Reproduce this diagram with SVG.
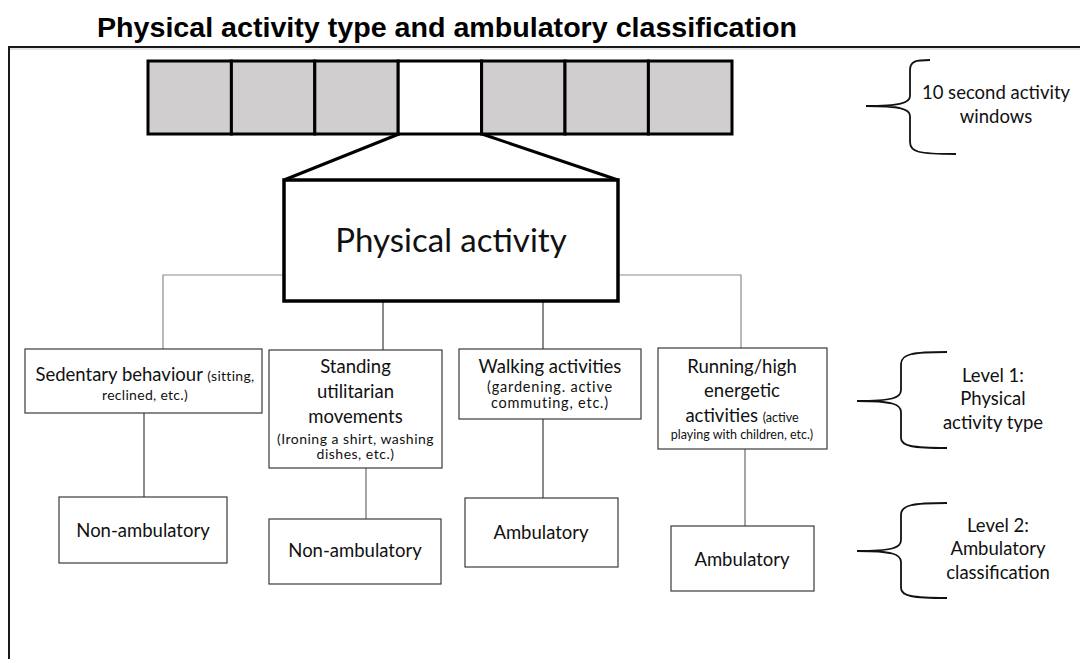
<svg xmlns="http://www.w3.org/2000/svg" width="1080" height="659" viewBox="0 0 1080 659">
<style>
  .bg { fill: #ffffff; }
  .frame { stroke: #1a1a1a; stroke-width: 2; fill: none; }
  .cell { fill: #d0cece; stroke: #000; stroke-width: 3; }
  .cell-sel { fill: #ffffff; stroke: #000; stroke-width: 3; }
  .zoom { stroke: #000; stroke-width: 3; fill: none; }
  .main { fill: #fff; stroke: #000; stroke-width: 3.5; }
  .box { fill: #fff; stroke: #3a3a3a; stroke-width: 1.2; }
  .elbow { stroke: #8c8c8c; stroke-width: 1.2; fill: none; }
  .link { stroke: #2a2a2a; stroke-width: 1.1; fill: none; }
  .link2 { stroke: #6a6a6a; stroke-width: 1.2; fill: none; }
  .brace { stroke: #111; stroke-width: 1.8; fill: none; }
  .title { font-family: "Liberation Sans", Arial, sans-serif; font-weight: bold; font-size: 27px; fill: #000; }
  .t { font-family: Lato, "Open Sans", sans-serif; fill: #111; text-anchor: middle; }
  .big { font-size: 18.5px; }
  .sm { font-size: 14px; letter-spacing: 0.3px; }
  .sms { font-size: 14px; letter-spacing: 0.5px; }
  .smw { font-size: 14.5px; letter-spacing: 0.8px; }
  .smr { font-size: 12.5px; }
  .huge { font-size: 33px; }
</style>
<rect class="bg" x="0" y="0" width="1080" height="659"/>

<text class="title" x="97" y="37" textLength="700" lengthAdjust="spacingAndGlyphs">Physical activity type and ambulatory classification</text>

<g id="frame">
  <line class="frame" x1="8" y1="47" x2="1080" y2="47"/>
  <line class="frame" x1="9" y1="46" x2="9" y2="659"/>
  <line x1="10" y1="49" x2="1080" y2="49" stroke="#c8c8c8" stroke-width="1"/>
</g>

<g id="connectors">
  <line class="zoom" x1="399" y1="134" x2="284" y2="180"/>
  <line class="zoom" x1="482" y1="134" x2="618" y2="180"/>
  <polyline class="elbow" points="284,275 163,275 163,349"/>
  <polyline class="elbow" points="618,275 741,275 741,348"/>
  <line class="link" x1="383" y1="301" x2="383" y2="350"/>
  <line class="link" x1="543" y1="301" x2="543" y2="349"/>
  <line class="link" x1="144" y1="413" x2="144" y2="497"/>
  <line class="link2" x1="366" y1="468" x2="366" y2="519"/>
  <line class="link" x1="543" y1="419" x2="543" y2="498"/>
  <line class="link2" x1="745" y1="449" x2="745" y2="526"/>
</g>

<g id="activity-windows">
  <rect class="cell" x="148" y="61" width="83.4" height="73"/>
  <rect class="cell" x="231.4" y="61" width="83.4" height="73"/>
  <rect class="cell" x="314.8" y="61" width="83.4" height="73"/>
  <rect class="cell-sel" x="398.2" y="61" width="83.4" height="73"/>
  <rect class="cell" x="481.6" y="61" width="83.4" height="73"/>
  <rect class="cell" x="565" y="61" width="83.4" height="73"/>
  <rect class="cell" x="648.4" y="61" width="83.6" height="73"/>
</g>

<g id="physical-activity">
  <rect class="main" x="284" y="180" width="334" height="121"/>
  <text class="t huge" x="451" y="252">Physical activity</text>
</g>

<g id="sedentary">
  <rect class="box" x="25" y="349" width="237" height="64"/>
  <text class="t" x="145" y="381"><tspan class="big">Sedentary behaviour </tspan><tspan class="sm">(sitting,</tspan></text>
  <text class="t sm" x="145" y="400">reclined, etc.)</text>
</g>

<g id="standing">
  <rect class="box" x="269" y="350" width="173" height="118"/>
  <text class="t big" x="355.5" y="373">Standing</text>
  <text class="t big" x="355.5" y="398">utilitarian</text>
  <text class="t big" x="355.5" y="423">movements</text>
  <text class="t sms" x="355.5" y="444">(Ironing a shirt, washing</text>
  <text class="t sms" x="355.5" y="459">dishes, etc.)</text>
</g>

<g id="walking">
  <rect class="box" x="459" y="349" width="182" height="70"/>
  <text class="t big" x="550" y="373">Walking activities</text>
  <text class="t smw" x="550" y="392">(gardening. active</text>
  <text class="t smw" x="550" y="408">commuting, etc.)</text>
</g>

<g id="running">
  <rect class="box" x="658" y="348" width="169" height="101"/>
  <text class="t big" x="742" y="373">Running/high</text>
  <text class="t big" x="742" y="397">energetic</text>
  <text class="t" x="742" y="422"><tspan class="big">activities </tspan><tspan class="smr">(active</tspan></text>
  <text class="t smr" x="742" y="439">playing with children, etc.)</text>
</g>

<g id="non-ambulatory-1">
  <rect class="box" x="59" y="497" width="168" height="66"/>
  <text class="t big" x="143" y="537">Non-ambulatory</text>
</g>

<g id="non-ambulatory-2">
  <rect class="box" x="269" y="519" width="172" height="65"/>
  <text class="t big" x="355" y="557">Non-ambulatory</text>
</g>

<g id="ambulatory-1">
  <rect class="box" x="465" y="498" width="153" height="69"/>
  <text class="t big" x="541" y="539">Ambulatory</text>
</g>

<g id="ambulatory-2">
  <rect class="box" x="671" y="526" width="143" height="65"/>
  <text class="t big" x="742" y="566">Ambulatory</text>
</g>

<g id="brace-windows">
  <path class="brace" d="M930,60 C916,60 910,61 910,70 L910,96 C910,103 900,106 866,106 C900,106 910,109 910,116 L910,142 C910,152 918,154 956,154"/>
  <text class="t big" x="996" y="99">10 second activity</text>
  <text class="t big" x="996" y="123">windows</text>
</g>

<g id="brace-level1">
  <path class="brace" d="M947,352 C912,352 901,354 901,364 L901,390 C901,398 892,401 857,401 C892,401 901,404 901,412 L901,438 C901,446 912,448 947,448"/>
  <text class="t big" x="993" y="382">Level 1:</text>
  <text class="t big" x="993" y="405">Physical</text>
  <text class="t big" x="993" y="429">activity type</text>
</g>

<g id="brace-level2">
  <path class="brace" d="M947,503 C912,503 901,505 901,515 L901,540 C901,548 892,551 857,551 C892,551 901,554 901,562 L901,588 C901,596 912,598 947,598"/>
  <text class="t big" x="998" y="532">Level 2:</text>
  <text class="t big" x="998" y="555">Ambulatory</text>
  <text class="t big" x="998" y="579">classification</text>
</g>
</svg>
